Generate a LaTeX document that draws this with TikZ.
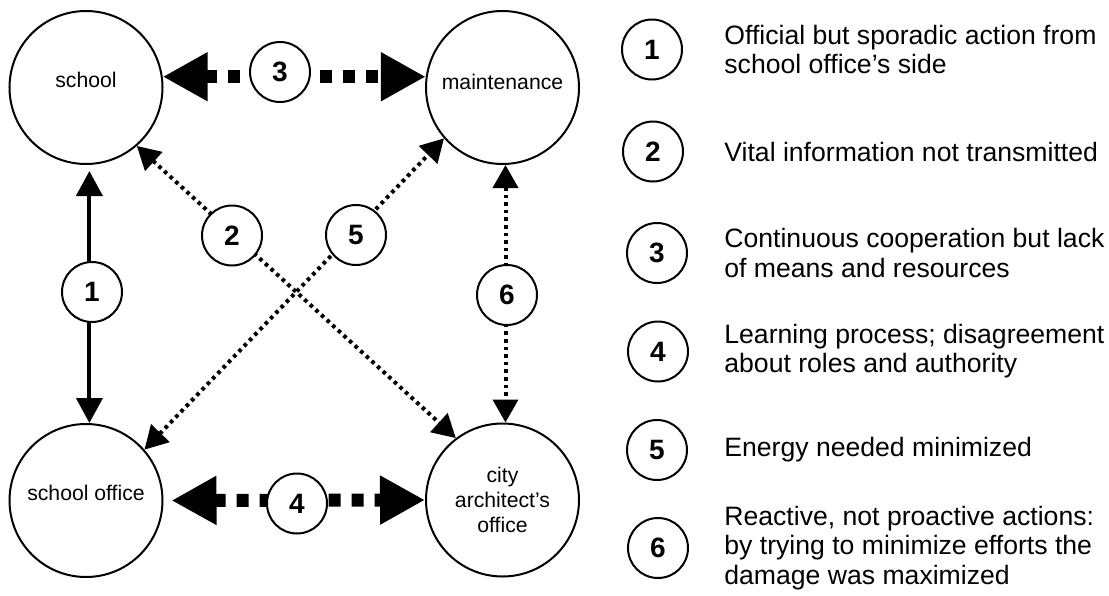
\documentclass[tikz,border=0pt]{standalone}
\usepackage{fontspec}
\setmainfont{Liberation Sans}
\usetikzlibrary{arrows.meta}

\begin{document}
\begin{tikzpicture}[x=0.5pt, y=-0.5pt,
  party/.style={circle, draw=black, line width=1pt, minimum size=76.5pt, inner sep=0pt, align=center, font=\fontsize{10.6}{12.3}\selectfont},
  numc/.style={circle, draw=black, fill=white, line width=1pt, minimum size=30pt, inner sep=0pt, font=\fontsize{14}{14}\selectfont\bfseries},
  legtext/.style={anchor=west, align=left, inner sep=0pt, font=\fontsize{13.3}{14.6}\selectfont},
  widelink/.style={line width=6.5pt, dash pattern=on 6pt off 5.5pt, {Triangle[length=22.5pt, width=23pt]}-{Triangle[length=22.5pt, width=23pt]}},
  dotlink/.style={line width=2pt, dash pattern=on 1.8pt off 2pt, {Triangle[length=11.5pt, width=12.5pt]}-{Triangle[length=11.5pt, width=12.5pt]}},
  solidlink/.style={line width=2pt, {Triangle[length=12.5pt, width=13pt]}-{Triangle[length=12.5pt, width=13pt]}}]

  \useasboundingbox (0,0) rectangle (1109,595);

  \node[party, text depth=7.5pt] at (86,87.5) (school) {school};
  \node[party, text depth=5.5pt] at (502.5,87.5) (maint) {maintenance};
  \node[party, text depth=7.5pt] at (86,500.5) (soffice) {school office};
  \node[party] at (502.5,500) (city) {city\\architect’s\\office};

  \draw[widelink] (school.8) -- (maint.172);
  \draw[widelink, shorten <=4pt] (soffice.east) -- (city.west);
  \draw[solidlink, shorten <=3pt] ([xshift=1.7pt]school.south) -- ([xshift=1.7pt]soffice.north);
  \draw[dotlink] ([xshift=1.5pt]maint.south) -- ([xshift=1.5pt]city.north);
  \draw[dotlink] (school.-49) -- (city.127);
  \draw[dotlink] (soffice.41) -- (maint.221);

  \node[numc] at (92,292) (n1) {1};
  \node[numc] at (232,235.5) (n2) {2};
  \node[numc] at (280,72) (n3) {3};
  \node[numc] at (297,503.5) (n4) {4};
  \node[numc] at (356,235) (n5) {5};
  \node[numc] at (507,295) (n6) {6};

  \node[numc] at (652,49.5) (l1) {1};
  \node[numc] at (653,151.5) (l2) {2};
  \node[numc] at (657,253) (l3) {3};
  \node[numc] at (658,351.5) (l4) {4};
  \node[numc] at (657,450) (l5) {5};
  \node[numc] at (658,548) (l6) {6};
  \node[legtext] at (724,49.5) (t1) {Official but sporadic action from\\school office’s side};
  \node[legtext] at (724,151.5) (t2) {Vital information not transmitted};
  \node[legtext] at (724,253) (t3) {Continuous cooperation but lack\\of means and resources};
  \node[legtext] at (724,351.5) (t4) {Learning process; disagreement\\about roles and authority};
  \node[legtext] at (724,450) (t5) {Energy needed minimized};
  \node[legtext] at (724,548) (t6) {Reactive, not proactive actions:\\by trying to minimize efforts the\\damage was maximized};
\end{tikzpicture}
\end{document}
